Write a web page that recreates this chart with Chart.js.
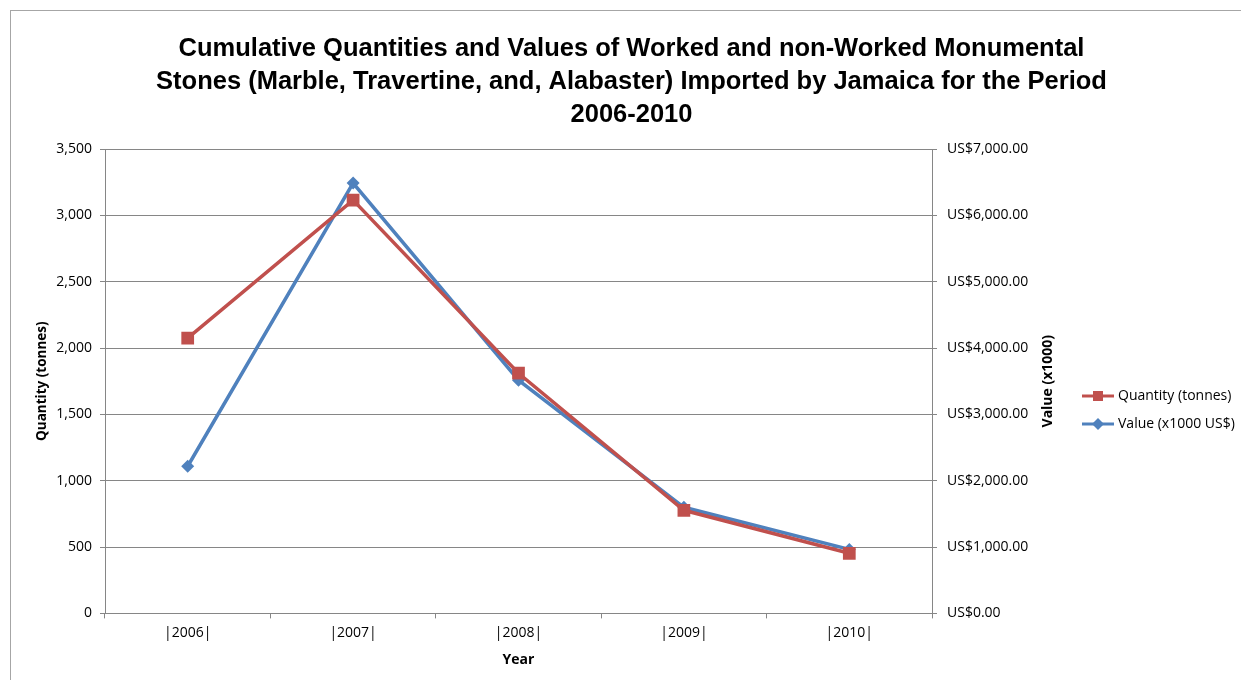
<!DOCTYPE html>
<html>
<head>
<meta charset="utf-8">
<script src="https://cdn.jsdelivr.net/npm/chart.js@4.4.1/dist/chart.umd.min.js"></script>
<style>
  html, body { margin: 0; padding: 0; background: #fff; }
  #wrap { position: relative; width: 1241px; height: 680px; overflow: hidden; }
  #frame { position: absolute; left: 10px; top: 10px; width: 1260px; height: 700px;
           border: 1px solid #a6a6a6; box-sizing: border-box; }
  canvas { position: absolute; left: 0; top: 0; }
</style>
</head>
<body>
<div id="wrap">
  <div id="frame"></div>
  <canvas id="chart" width="1241" height="680"></canvas>
</div>
<script>
// Monumental stone imports, Jamaica 2006-2010
const years = ['|2006|', '|2007|', '|2008|', '|2009|', '|2010|'];
const quantityTonnes = [2074, 3115, 1810, 777, 453];
const valueThousandUSD = [2218, 6487, 3515, 1599, 965];

const titleLines = [
  'Cumulative Quantities and Values of Worked and non-Worked Monumental',
  'Stones (Marble, Travertine, and, Alabaster) Imported by Jamaica for the Period',
  '2006-2010'
];

const RED = '#C0504D';
const BLUE = '#4F81BD';
const GRID = '#868686';
const FONT = "'Open Sans', 'DejaVu Sans', sans-serif";
const TITLE_FONT = "'Liberation Sans', Arial, sans-serif";

// right-hand axis title reads bottom-to-top, same as the left one
const rightTitle = {
  id: 'rightTitle',
  afterDraw(chart) {
    const ctx = chart.ctx;
    ctx.save();
    ctx.translate(chart.chartArea.right + 116, (chart.chartArea.top + chart.chartArea.bottom) / 2);
    ctx.rotate(-Math.PI / 2);
    ctx.font = "bold 14px " + FONT;
    ctx.fillStyle = '#000';
    ctx.textAlign = 'center';
    ctx.textBaseline = 'middle';
    ctx.fillText('Value (x1000)', 0, 0);
    ctx.restore();
  }
};

// legend to the right of the value axis: line sample, marker, label
const sideLegend = {
  id: 'sideLegend',
  afterDraw(chart) {
    const ctx = chart.ctx;
    const x0 = chart.chartArea.right + 150;
    const yMid = 410;
    const rowGap = 28;
    const sets = chart.data.datasets;
    sets.forEach((ds, i) => {
      const y = yMid + (i - (sets.length - 1) / 2) * rowGap;
      ctx.save();
      ctx.strokeStyle = ds.borderColor;
      ctx.lineWidth = 3;
      ctx.beginPath(); ctx.moveTo(x0, y); ctx.lineTo(x0 + 32, y); ctx.stroke();
      ctx.fillStyle = ds.borderColor;
      const cx = x0 + 16;
      if (ds.pointStyle === 'rect') {
        ctx.fillRect(cx - 5, y - 5, 10, 10);
      } else {
        ctx.beginPath();
        ctx.moveTo(cx, y - 6); ctx.lineTo(cx + 6, y); ctx.lineTo(cx, y + 6); ctx.lineTo(cx - 6, y);
        ctx.closePath(); ctx.fill();
      }
      ctx.font = "14px " + FONT;
      ctx.fillStyle = '#000';
      ctx.textAlign = 'left';
      ctx.textBaseline = 'middle';
      ctx.fillText(ds.label, x0 + 36, y);
      ctx.restore();
    });
  }
};

new Chart(document.getElementById('chart'), {
  type: 'line',
  data: {
    labels: years,
    datasets: [{
      label: 'Quantity (tonnes)',
      data: quantityTonnes,
      yAxisID: 'y',
      borderColor: RED,
      backgroundColor: RED,
      borderWidth: 3.5,
      pointStyle: 'rect',
      pointRadius: 9,
      pointHoverRadius: 9,
      pointBorderWidth: 0,
      tension: 0
    }, {
      label: 'Value (x1000 US$)',
      data: valueThousandUSD,
      yAxisID: 'y1',
      borderColor: BLUE,
      backgroundColor: BLUE,
      borderWidth: 3.5,
      pointStyle: 'rectRot',
      pointRadius: 6.5,
      pointHoverRadius: 6.5,
      pointBorderWidth: 0,
      tension: 0
    }]
  },
  options: {
    responsive: false,
    animation: false,
    layout: { padding: { left: 30, right: 8, top: 18, bottom: 12 } },
    plugins: {
      title: {
        display: true,
        text: titleLines,
        color: '#000',
        font: { family: TITLE_FONT, size: 25.5, weight: 'bold', lineHeight: '33px' },
        padding: { top: 14, bottom: 18 }
      },
      legend: { display: false },
      tooltip: { enabled: false }
    },
    scales: {
      x: {
        offset: true,
        grid: { offset: true, drawOnChartArea: false, color: GRID, tickLength: 5 },
        border: { color: GRID },
        ticks: { color: '#000', font: { family: FONT, size: 14 }, padding: 6 },
        title: { display: true, text: 'Year', color: '#000',
                 font: { family: FONT, size: 14, weight: 'bold' }, padding: { top: 4, bottom: 0 } }
      },
      y: {
        position: 'left',
        min: 0, max: 3500,
        afterFit: (s) => { s.width = 75; },
        ticks: { stepSize: 500, color: '#000', font: { family: FONT, size: 14 }, padding: 8,
                 callback: (v) => v.toLocaleString('en-US') },
        grid: { color: GRID, tickLength: 5 },
        border: { color: GRID },
        title: { display: true, text: 'Quantity (tonnes)', color: '#000',
                 font: { family: FONT, size: 13.5, weight: 'bold' }, padding: { top: 4, bottom: 4 } }
      },
      y1: {
        position: 'right',
        min: 0, max: 7000,
        // wide box: leaves room for the axis title and legend drawn by the plugins
        afterFit: (s) => { s.width = 301; },
        ticks: { stepSize: 1000, color: '#000', font: { family: FONT, size: 14 }, padding: 10,
                 callback: (v) => 'US$' + v.toLocaleString('en-US', { minimumFractionDigits: 2, maximumFractionDigits: 2 }) },
        grid: { drawOnChartArea: false, color: GRID, tickLength: 5 },
        border: { color: GRID }
      }
    }
  },
  plugins: [rightTitle, sideLegend]
});
</script>
</body>
</html>
